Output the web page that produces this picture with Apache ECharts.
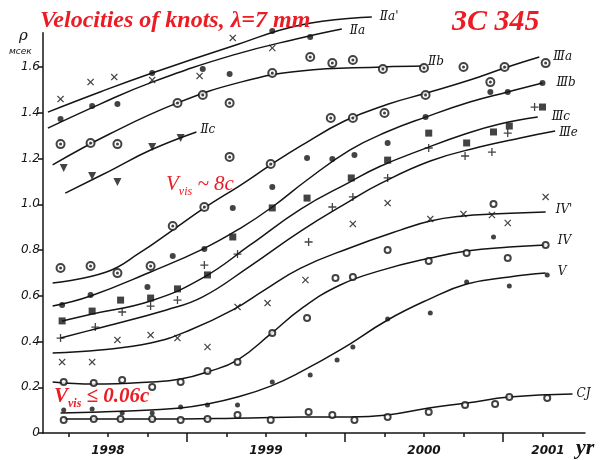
<!DOCTYPE html>
<html>
<head>
<meta charset="utf-8">
<script src="https://cdn.jsdelivr.net/npm/echarts@6/dist/echarts.min.js"></script>
<style>
html,body{margin:0;padding:0;background:#fff}
#c{width:602px;height:460px}
</style>
</head>
<body>
<div id="c"></div>
<script>
// Fitted curves: [epoch (yr), separation ρ (mas)]
const curveIIa2 = [[1997.62,1.403],[1997.95,1.491],[1998.28,1.574],[1998.79,1.692],[1999.22,1.784],[1999.67,1.819]];
const curveIIa  = [[1997.62,1.333],[1997.95,1.438],[1998.28,1.534],[1998.79,1.652],[1999.22,1.727],[1999.48,1.766]];
const curveIIb  = [[1997.65,1.172],[1998.01,1.307],[1998.44,1.443],[1998.84,1.534],[1999.22,1.583],[1999.74,1.600],[2000.00,1.604]];
const curveIIc  = [[1997.73,1.049],[1998.01,1.145],[1998.27,1.237],[1998.56,1.316]];
const curveIIIa = [[1997.65,0.656],[1997.99,0.704],[1998.20,0.787],[1998.41,0.887],[1998.61,0.984],[1998.84,1.084],[1999.03,1.172],[1999.22,1.255],[1999.50,1.365],[1999.77,1.437],[2000.01,1.485],[2000.29,1.543],[2000.51,1.596],[2000.73,1.644]];
const curveIIIb = [[1997.65,0.555],[1997.89,0.599],[1998.27,0.704],[1998.60,0.804],[1998.84,0.896],[1999.04,0.988],[1999.26,1.106],[1999.53,1.237],[1999.77,1.318],[2000.01,1.381],[2000.29,1.447],[2000.53,1.491],[2000.75,1.530]];
const curveIIIc = [[1997.71,0.490],[1997.90,0.520],[1998.27,0.577],[1998.60,0.678],[1998.90,0.822],[1999.22,0.979],[1999.53,1.097],[1999.72,1.165],[2000.00,1.242],[2000.26,1.307],[2000.48,1.351],[2000.72,1.381]];
const curveIIIe = [[1997.70,0.415],[1997.92,0.455],[1998.37,0.538],[1998.60,0.595],[1998.90,0.730],[1999.22,0.883],[1999.53,1.014],[1999.72,1.089],[2000.04,1.189],[2000.35,1.250],[2000.61,1.290],[2000.83,1.320]];
const curveIV1  = [[1997.65,0.350],[1997.95,0.363],[1998.27,0.393],[1998.52,0.450],[1998.79,0.538],[1998.99,0.625],[1999.22,0.721],[1999.53,0.809],[1999.85,0.887],[2000.04,0.927],[2000.25,0.949],[2000.43,0.957],[2000.77,0.966]];
const curveIV   = [[1997.65,0.223],[1997.91,0.214],[1998.27,0.223],[1998.46,0.236],[1998.63,0.267],[1998.82,0.319],[1999.03,0.433],[1999.22,0.542],[1999.47,0.647],[1999.74,0.713],[2000.04,0.765],[2000.27,0.796],[2000.54,0.813],[2000.77,0.822]];
const curveV    = [[1997.70,0.087],[1997.95,0.092],[1998.27,0.101],[1998.46,0.109],[1998.63,0.127],[1998.82,0.157],[1999.03,0.205],[1999.22,0.267],[1999.47,0.363],[1999.77,0.494],[2000.02,0.581],[2000.27,0.651],[2000.54,0.682],[2000.77,0.699]];
const curveCJ   = [[1997.72,0.061],[1998.27,0.061],[1998.90,0.066],[1999.22,0.070],[1999.53,0.070],[1999.77,0.079],[2000.03,0.109],[2000.27,0.131],[2000.54,0.157],[2000.94,0.170]];

// Measured knot positions
const ptsIIa2 = [[1997.70,1.460],[1997.89,1.534],[1998.04,1.556],[1998.28,1.543],[1998.58,1.561],[1998.79,1.727],[1999.04,1.683]];
const ptsIIa  = [[1997.70,1.373],[1997.90,1.430],[1998.06,1.438],[1998.28,1.574],[1998.60,1.591],[1998.77,1.569],[1999.04,1.757],[1999.28,1.731]];
const ptsIIb  = [[1997.70,1.263],[1997.89,1.268],[1998.06,1.263],[1998.44,1.443],[1998.60,1.478],[1998.77,1.443],[1999.04,1.574],[1999.28,1.644],[1999.42,1.617],[1999.55,1.631],[1999.74,1.591],[2000.00,1.596],[2000.25,1.600]];
const ptsIIc  = [[1997.72,1.158],[1997.90,1.124],[1998.06,1.097],[1998.28,1.250],[1998.46,1.290]];
const ptsIIIa = [[1997.70,0.721],[1997.89,0.730],[1998.06,0.699],[1998.27,0.730],[1998.41,0.905],[1998.61,0.988],[1998.77,1.207],[1999.03,1.176],[1999.41,1.377],[1999.55,1.377],[1999.75,1.399],[2000.01,1.478],[2000.42,1.534],[2000.51,1.600],[2000.77,1.617]];
const ptsIIIb = [[1997.71,0.560],[1997.89,0.603],[1998.25,0.638],[1998.41,0.774],[1998.61,0.804],[1998.79,0.984],[1999.04,1.075],[1999.26,1.202],[1999.42,1.198],[1999.56,1.215],[1999.77,1.268],[2000.01,1.381],[2000.42,1.491],[2000.53,1.491],[2000.75,1.530]];
const ptsIIIc = [[1997.71,0.490],[1997.90,0.533],[1998.08,0.581],[1998.27,0.590],[1998.44,0.630],[1998.63,0.691],[1998.79,0.857],[1999.04,0.984],[1999.26,1.027],[1999.54,1.115],[1999.77,1.193],[2000.03,1.311],[2000.27,1.268],[2000.44,1.316],[2000.54,1.342],[2000.75,1.425]];
const ptsIIIe = [[1997.70,0.415],[1997.92,0.463],[1998.09,0.529],[1998.27,0.555],[1998.44,0.581],[1998.61,0.734],[1998.82,0.782],[1999.27,0.835],[1999.42,0.988],[1999.55,1.032],[1999.77,1.115],[2000.03,1.246],[2000.26,1.211],[2000.43,1.228],[2000.53,1.311],[2000.70,1.425]];
const ptsIV1  = [[1997.71,0.310],[1997.90,0.310],[1998.06,0.407],[1998.27,0.428],[1998.44,0.415],[1998.63,0.376],[1998.82,0.551],[1999.01,0.568],[1999.25,0.669],[1999.55,0.914],[1999.77,1.005],[2000.04,0.936],[2000.25,0.957],[2000.43,0.953],[2000.53,0.918],[2000.77,1.032]];
const ptsIV   = [[1997.72,0.223],[1997.91,0.219],[1998.09,0.232],[1998.28,0.201],[1998.46,0.223],[1998.63,0.271],[1998.82,0.310],[1999.04,0.437],[1999.26,0.503],[1999.44,0.678],[1999.55,0.682],[1999.77,0.800],[2000.03,0.752],[2000.27,0.787],[2000.44,1.001],[2000.53,0.765],[2000.77,0.822]];
const ptsV    = [[1997.72,0.101],[1997.90,0.105],[1998.09,0.087],[1998.28,0.087],[1998.46,0.114],[1998.63,0.122],[1998.82,0.122],[1999.04,0.223],[1999.28,0.254],[1999.45,0.319],[1999.55,0.376],[1999.77,0.498],[2000.04,0.525],[2000.27,0.660],[2000.44,0.857],[2000.54,0.643],[2000.78,0.691]];
const ptsCJ   = [[1997.72,0.057],[1997.91,0.061],[1998.08,0.061],[1998.28,0.061],[1998.46,0.057],[1998.63,0.061],[1998.82,0.079],[1999.03,0.057],[1999.27,0.092],[1999.42,0.079],[1999.56,0.057],[1999.77,0.070],[2000.03,0.092],[2000.26,0.122],[2000.45,0.127],[2000.54,0.157],[2000.78,0.153]];

// Axis ticks and labels
const yTickValues = [0, 0.2, 0.4, 0.6, 0.8, 1.0, 1.2, 1.4, 1.6];
const quarterTicks = [1997.75, 1998, 1998.25, 1998.5, 1998.75, 1999, 1999.25, 1999.5, 1999.75, 2000, 2000.25, 2000.5, 2000.75];
const halfYearTicks = [1998.5, 1999.5, 2000.5];
const yearLabels = [1998, 1999, 2000, 2001];

const X_MIN = 1997.589, X_MAX = 2001.019, Y_MAX = 1.75;
const INK = '#141414';
const RED = '#ec1c24';

const CROSS = 'path://M0,1.2L1.2,0L5,3.8L8.8,0L10,1.2L6.2,5L10,8.8L8.8,10L5,6.2L1.2,10L0,8.8L3.8,5Z';
const PLUS = 'path://M4.2,0H5.8V4.2H10V5.8H5.8V10H4.2V5.8H0V4.2H4.2Z';

function curve(name, data, dist, dy) {
  return {
    type: 'line', name: name, data: data, smooth: 0.45, showSymbol: false,
    clip: false, silent: true, z: 2,
    lineStyle: { color: INK, width: 1.5 },
    endLabel: {
      show: true, formatter: name, distance: dist, offset: [0, dy || 0],
      color: INK, fontSize: 12, fontFamily: 'DejaVu Serif', fontStyle: 'italic'
    }
  };
}
// filled marks, or hollow rings drawn with a white centre
function pts(data, symbol, size, filled, rotate) {
  return {
    type: 'scatter', data: data, symbol: symbol, symbolSize: size, symbolRotate: rotate || 0,
    clip: false, silent: true, z: 3,
    itemStyle: filled ? { color: INK, borderWidth: 0 } : { color: INK, borderColor: INK, borderWidth: 1.4 }
  };
}

const series = [
  curve("Ⅱa'", curveIIa2, 8, 0),
  curve('Ⅱa', curveIIa, 8, 2),
  curve('Ⅱb', curveIIb, 4, -4),
  curve('Ⅱc', curveIIc, 4, -2),
  curve('Ⅲa', curveIIIa, 14, 0),
  curve('Ⅲb', curveIIIb, 14, 0),
  curve('Ⅲc', curveIIIc, 14, 0),
  curve('Ⅲe', curveIIIe, 4, 2),
  curve("IV'", curveIV1, 10, -2),
  curve('IV', curveIV, 12, -4),
  curve('V', curveV, 12, -1),
  curve('CJ', curveCJ, 4, 0),

  pts(ptsIIa2, CROSS, 7, true),
  pts(ptsIIa, 'circle', 6, true),
  pts(ptsIIb, 'emptyCircle', 8, false),
  pts(ptsIIb, 'circle', 3, true),
  pts(ptsIIc, 'triangle', 8, true, 180),
  pts(ptsIIIa, 'emptyCircle', 8, false),
  pts(ptsIIIa, 'circle', 3, true),
  pts(ptsIIIb, 'circle', 6, true),
  pts(ptsIIIc, 'rect', 7, true),
  pts(ptsIIIe, PLUS, 8, true),
  pts(ptsIV1, CROSS, 7, true),
  pts(ptsIV, 'emptyCircle', 6, false),
  pts(ptsV, 'circle', 5, true),
  pts(ptsCJ, 'emptyCircle', 6, false)
];

const chart = echarts.init(document.getElementById('c'), null, { renderer: 'canvas' });
chart.setOption({
  animation: false,
  backgroundColor: '#fff',
  grid: { left: 43, right: 17, top: 32.7, bottom: 27, containLabel: false },
  xAxis: [{
    type: 'value', min: X_MIN, max: X_MAX,
    splitLine: { show: false },
    axisLine: { lineStyle: { color: INK, width: 1.5 } },
    axisTick: { customValues: quarterTicks, length: 4, lineStyle: { color: INK, width: 1.5 } },
    axisLabel: {
      customValues: yearLabels, margin: 12,
      color: INK, fontSize: 12, fontWeight: 'bold', fontStyle: 'italic', fontFamily: 'DejaVu Sans',
      formatter: function (v) { return v === 2001 ? '{e|' + v + '}' : '{n|' + v + '}'; },
      rich: {
        n: { fontSize: 12, fontWeight: 'bold', fontStyle: 'italic', fontFamily: 'DejaVu Sans', color: INK },
        e: { fontSize: 12, fontWeight: 'bold', fontStyle: 'italic', fontFamily: 'DejaVu Sans', color: INK, padding: [0, 68, 0, 0] }
      }
    }
  }, {
    type: 'value', min: X_MIN, max: X_MAX, position: 'bottom', offset: 0,
    splitLine: { show: false }, axisLine: { show: false }, axisLabel: { show: false },
    axisTick: { customValues: halfYearTicks, length: 9, lineStyle: { color: INK, width: 1.5 } }
  }],
  yAxis: {
    type: 'value', min: 0, max: Y_MAX,
    splitLine: { show: false },
    axisLine: { show: true, lineStyle: { color: INK, width: 1.5 } },
    axisTick: { show: true, customValues: yTickValues, length: 5, lineStyle: { color: INK, width: 1.5 } },
    axisLabel: {
      customValues: yTickValues, margin: 3, color: INK, fontSize: 12, fontStyle: 'italic', fontFamily: 'DejaVu Sans',
      formatter: function (v) { return v === 0 ? '0' : v.toFixed(1); }
    }
  },
  series: series,
  graphic: [
    { type: 'text', left: 40, top: 9, z: 10, style: { text: 'Velocities of knots, λ=7 mm', font: 'italic bold 24px "Liberation Serif"', fill: RED } },
    { type: 'text', left: 452, top: 7, z: 10, style: { text: '3C 345', font: 'italic bold 30px "Liberation Serif"', fill: RED } },
    { type: 'text', left: 166, top: 174, z: 10, style: {
      text: '{v|V}{s|vis}{v| ~ 8c}',
      rich: {
        v: { font: 'italic 21px "Liberation Serif"', fill: RED, lineHeight: 26 },
        s: { font: 'italic 12px "Liberation Serif"', fill: RED, lineHeight: 12, verticalAlign: 'bottom' }
      } } },
    { type: 'text', left: 54, top: 386, z: 10, style: {
      text: '{v|V}{s|vis}{v| ≤ 0.06c}',
      rich: {
        v: { font: 'italic bold 21px "Liberation Serif"', fill: RED, lineHeight: 26 },
        s: { font: 'italic bold 12px "Liberation Serif"', fill: RED, lineHeight: 12, verticalAlign: 'bottom' }
      } } },
    { type: 'text', left: 576, top: 437, z: 10, style: { text: 'yr', font: 'italic bold 22px "Liberation Serif"', fill: INK } },
    { type: 'text', left: 19, top: 29, z: 10, style: { text: 'ρ', font: 'italic 15px "DejaVu Serif"', fill: INK } },
    { type: 'text', left: 9, top: 47, z: 10, style: { text: 'мсек', font: 'italic 9px "DejaVu Sans"', fill: INK } }
  ]
});
</script>
</body>
</html>
